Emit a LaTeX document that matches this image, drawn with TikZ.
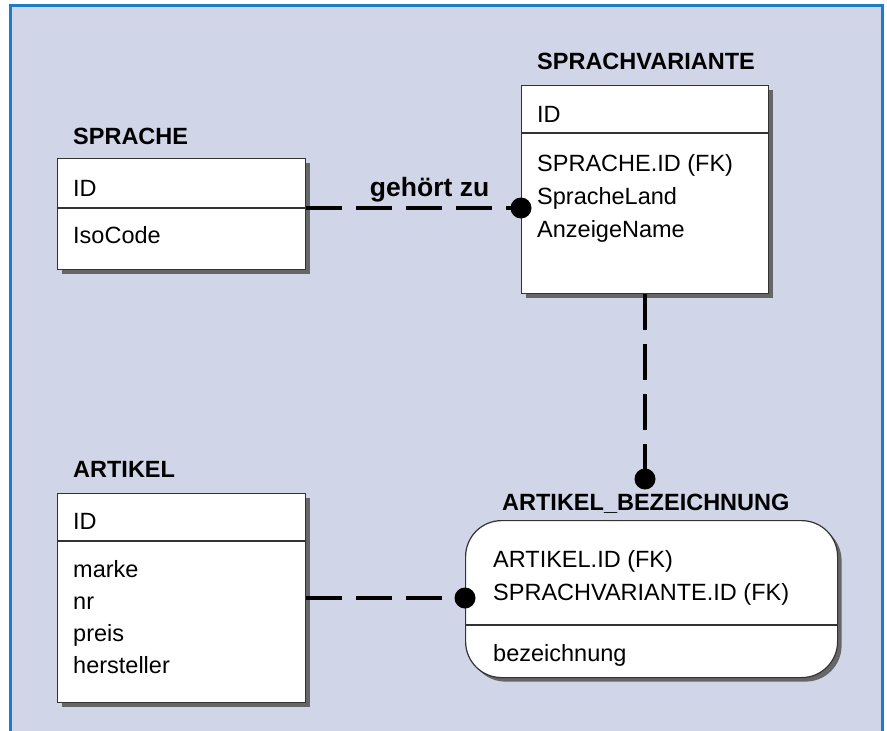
\documentclass[tikz,border=0pt]{standalone}
\usepackage{fontspec}
\setmainfont{Liberation Sans}
\usetikzlibrary{positioning, shadows, calc}

\definecolor{panelbg}{RGB}{209,213,232}
\definecolor{frameblue}{RGB}{28,124,200}

\tikzset{
  entity/.style={draw=black!80, line width=1.2pt, fill=white, anchor=north west,
    inner sep=0pt, drop shadow={shadow xshift=4pt, shadow yshift=-4pt,
    fill=black!60, opacity=1}},
  divider/.style={draw=black!80, line width=1.2pt},
  title/.style={font=\fontsize{23.5}{28}\selectfont\bfseries, anchor=base west, inner sep=0pt},
  attr/.style={font=\fontsize{23.5}{28}\selectfont, anchor=base west, inner sep=0pt},
  rel/.style={line width=4pt, dash pattern=on 36pt off 14pt},
  dot/.style={circle, fill=black, inner sep=0pt, minimum size=21pt},
}

\begin{document}
\begin{tikzpicture}[x=1pt, y=-1pt]
  \useasboundingbox (0,0) rectangle (887,731);
  %% panel
  \fill[panelbg] (10,5) rectangle (882,731);
  \draw[frameblue, line width=3pt] (10,731) -- (10,5) -- (882,5) -- (882,731);

  %% sprache
  \node[entity, minimum width=248pt, minimum height=111pt] (sprache) at (57,158) {};
  \node[title] (sprache-t) at ([xshift=16pt, yshift=14pt]sprache.north west) {SPRACHE};
  \draw[divider] ($(sprache.north west)+(0,50)$) -- ($(sprache.north east)+(0,50)$);
  \node[attr] (sprache-id) at ($(sprache.north west)+(16,38)$) {ID};
  \node[attr] (sprache-a1) at ($(sprache.north west)+(16,85)$) {IsoCode};

  %% sprachvariante
  \node[entity, minimum width=247pt, minimum height=208pt] (variante) at (521,85) {};
  \node[title] (variante-t) at ([xshift=16pt, yshift=16pt]variante.north west) {SPRACHVARIANTE};
  \draw[divider] ($(variante.north west)+(0,48)$) -- ($(variante.north east)+(0,48)$);
  \node[attr] (variante-id) at ($(variante.north west)+(16,37)$) {ID};
  \foreach \txt [count=\i] in {SPRACHE.ID (FK), SpracheLand, AnzeigeName}
    \node[attr] (variante-a\i) at ($(variante.north west)+(16,53+33*\i)$) {\txt};

  %% artikel
  \node[entity, minimum width=248pt, minimum height=209pt] (artikel) at (57,493) {};
  \node[title] (artikel-t) at ([xshift=16pt, yshift=16pt]artikel.north west) {ARTIKEL};
  \draw[divider] ($(artikel.north west)+(0,48)$) -- ($(artikel.north east)+(0,48)$);
  \node[attr] (artikel-id) at ($(artikel.north west)+(16,36)$) {ID};
  \foreach \txt [count=\i] in {marke, nr, preis, hersteller}
    \node[attr] (artikel-a\i) at ($(artikel.north west)+(16,52+32*\i)$) {\txt};

  %% artikel_bezeichnung
  \node[entity, rounded corners=36pt, minimum width=372pt, minimum height=157pt] (bez) at (465,520) {};
  \node[title] (bez-t) at ([xshift=37pt, yshift=10pt]bez.north west) {ARTIKEL\_BEZEICHNUNG};
  \draw[divider] ($(bez.north west)+(0,105)$) -- ($(bez.north east)+(0,105)$);
  \node[attr] (bez-k1) at ($(bez.north west)+(28,47)$) {ARTIKEL.ID (FK)};
  \node[attr] (bez-k2) at ($(bez.north west)+(28,80)$) {SPRACHVARIANTE.ID (FK)};
  \node[attr] (bez-a1) at ($(bez.north west)+(28,141)$) {bezeichnung};

  %% relationships
  \coordinate (c-spr) at (521,208);
  \coordinate (c-top) at (645,479);
  \coordinate (c-left) at (465,598);
  \draw[rel] (sprache.east |- c-spr) -- (c-spr)
    node[pos=0.5, above=1pt, xshift=16pt, font=\fontsize{26.5}{30}\selectfont\bfseries] (gehoert) {geh\"ort zu};
  \draw[rel] (variante.south -| c-top) -- (c-top);
  \draw[rel] (artikel.east |- c-left) -- (c-left);
  \node[dot] (dot-spr) at (c-spr) {};
  \node[dot] (dot-top) at (c-top) {};
  \node[dot] (dot-left) at (c-left) {};
\end{tikzpicture}
\end{document}
